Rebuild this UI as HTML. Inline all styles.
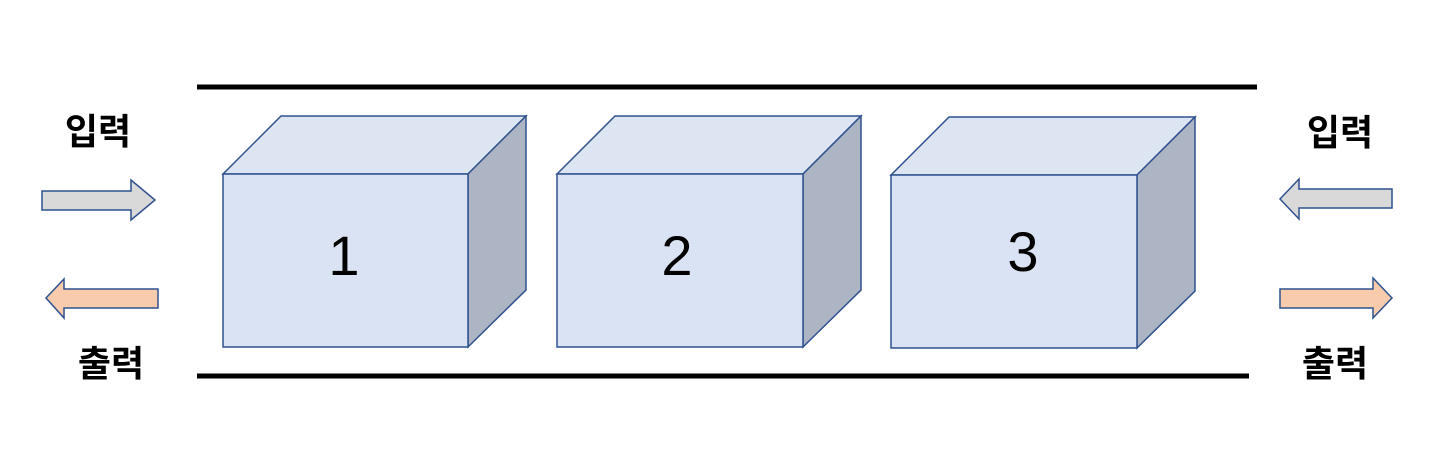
<!DOCTYPE html>
<html><head><meta charset="utf-8"><style>
html,body{margin:0;padding:0;background:#fff;width:1441px;height:455px;overflow:hidden}
text{font-family:"Liberation Sans","Noto Sans CJK KR",sans-serif}
</style></head><body>
<svg width="1441" height="455" viewBox="0 0 1441 455" xmlns="http://www.w3.org/2000/svg">
<g stroke="#000" stroke-width="5">
<line x1="197" y1="87" x2="1257" y2="87"/>
<line x1="197" y1="376" x2="1249" y2="376"/>
</g>
<g stroke="#2f528f" stroke-width="1.5" stroke-linejoin="miter">
<polygon points="223,174 281,116 526,116 468,174" fill="#dde5f3"/>
<polygon points="468,174 526,116 526,290 468,347" fill="#adb5c4"/>
<rect x="223" y="174" width="245" height="173" fill="#dae3f3"/>
<polygon points="557,174 615,116 861,116 803,174" fill="#dde5f3"/>
<polygon points="803,174 861,116 861,290 803,347" fill="#adb5c4"/>
<rect x="557" y="174" width="246" height="173" fill="#dae3f3"/>
<polygon points="891,175 949,117 1195,117 1137,175" fill="#dde5f3"/>
<polygon points="1137,175 1195,117 1195,291 1137,348" fill="#adb5c4"/>
<rect x="891" y="175" width="246" height="173" fill="#dae3f3"/>
<polygon points="42,191 131,191 131,180 155,200 131,220 131,210 42,210" fill="#d9d9d9"/>
<polygon points="158,289 64,289 64,279 46,298 64,318 64,308 158,308" fill="#f8cbad"/>
<polygon points="1392,189 1299,189 1299,179 1280,199 1299,219 1299,208 1392,208" fill="#d9d9d9"/>
<polygon points="1280,289 1373,289 1373,278 1392,298 1373,318 1373,308 1280,308" fill="#f8cbad"/>
</g>
<g font-size="56" text-anchor="middle" fill="#000">
<text x="344" y="275">1</text>
<text x="677" y="275">2</text>
<text x="1023" y="271">3</text>
</g>
<g font-size="36" font-weight="bold" text-anchor="middle" fill="#000">
<text x="98" y="144">입력</text>
<text x="111" y="376">출력</text>
<text x="1340" y="145">입력</text>
<text x="1335" y="376">출력</text>
</g>
</svg>
</body></html>
